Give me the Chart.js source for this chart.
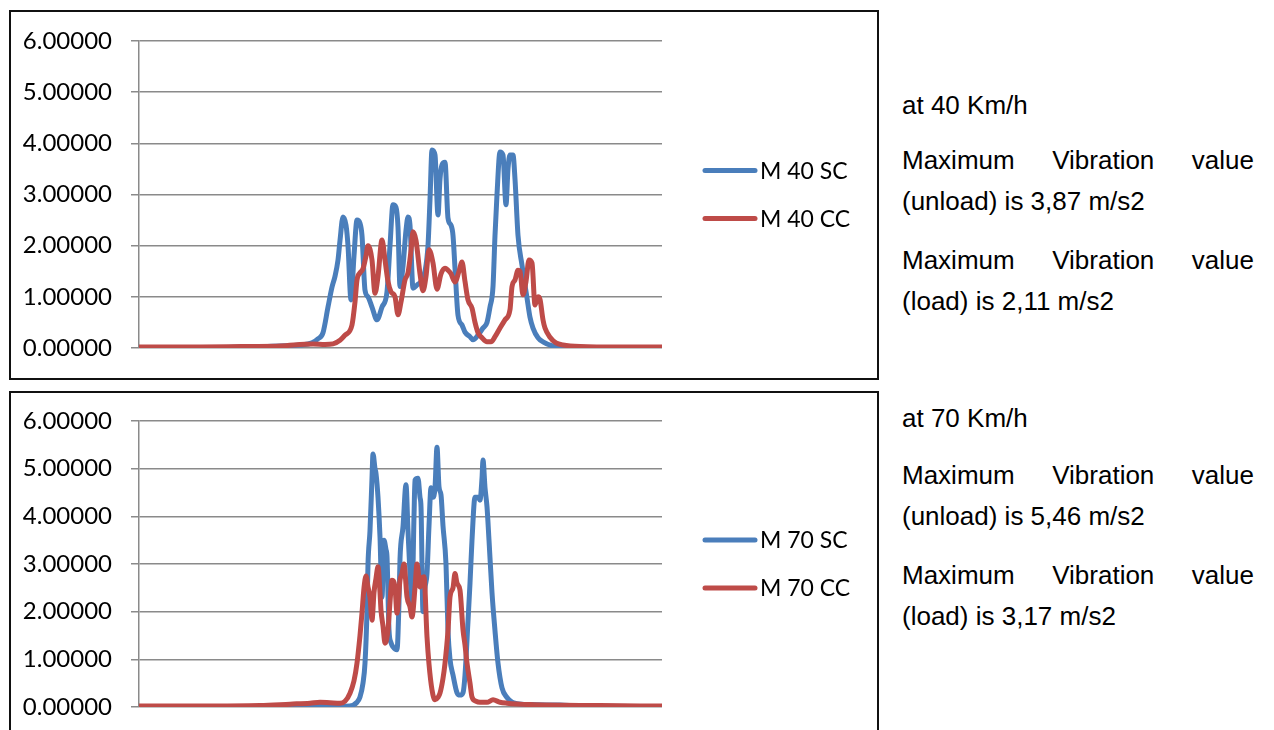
<!DOCTYPE html>
<html>
<head>
<meta charset="utf-8">
<script src="https://cdn.jsdelivr.net/npm/chart.js@4/dist/chart.umd.min.js"></script>
<style>
  body { margin: 0; background: #fff; width: 1274px; height: 730px; overflow: hidden; position: relative; }
  .box { position: absolute; left: 9px; width: 870px; height: 370px; border: 2px solid #111; box-sizing: border-box; background: #fff; }
  .box canvas { position: absolute; left: 0; top: 0; }
  .note { position: absolute; left: 902px; width: 352px; font-family: "Liberation Sans", Arial, sans-serif; font-size: 26px; line-height: 41px; color: #000; text-align: justify; }
</style>
</head>
<body>
<div class="box" style="top:10px"><canvas id="chart40" width="866" height="366"></canvas></div>
<div class="box" style="top:391px"><canvas id="chart70" width="866" height="366"></canvas></div>

<div class="note" style="top:85px">at 40 Km/h</div>
<div class="note" style="top:140px">Maximum Vibration value (unload) is 3,87 m/s2</div>
<div class="note" style="top:240px">Maximum Vibration value (load) is 2,11 m/s2</div>

<div class="note" style="top:398px">at 70 Km/h</div>
<div class="note" style="top:455px">Maximum Vibration value (unload) is 5,46 m/s2</div>
<div class="note" style="top:555px">Maximum Vibration value (load) is 3,17 m/s2</div>

<script>
// sample index along the recording, and vibration values (m/s2)
const t40SC = [0, 61, 111, 141, 161, 173, 179, 184, 189, 193, 196, 199, 201, 204, 207, 209, 212, 215, 218, 221, 223, 226, 229, 233, 238, 243, 248, 251, 254, 257, 259, 261, 264, 267, 269, 271, 274, 278, 282, 286, 289, 291, 293, 296, 299, 301, 303, 306, 309, 312, 314, 316, 319, 323, 326, 331, 334, 339, 344, 348, 351, 354, 356, 358, 361, 364, 367, 369, 371, 374, 376, 379, 383, 388, 391, 394, 399, 404, 414, 431, 461, 523];
const v40SC = [0.01, 0.01, 0.02, 0.04, 0.06, 0.1, 0.18, 0.3, 0.8, 1.19, 1.4, 1.72, 2.1, 2.56, 2.4, 2.0, 0.94, 1.8, 2.5, 2.44, 2.2, 1.13, 1.0, 0.8, 0.55, 0.8, 1.1, 2.0, 2.8, 2.75, 2.36, 1.2, 1.6, 2.3, 2.56, 2.4, 1.17, 1.23, 1.3, 1.5, 2.0, 2.9, 3.87, 3.77, 2.6, 3.3, 3.58, 3.63, 2.54, 2.4, 2.2, 1.56, 0.64, 0.45, 0.31, 0.22, 0.16, 0.25, 0.39, 0.5, 0.8, 1.2, 2.2, 3.0, 3.83, 3.77, 2.8, 3.5, 3.77, 3.77, 3.3, 2.2, 1.62, 0.98, 0.6, 0.39, 0.2, 0.12, 0.04, 0.02, 0.01, 0.01];

const t40CC = [0, 61, 111, 141, 174, 186, 194, 201, 206, 213, 216, 218, 221, 224, 227, 229, 233, 236, 239, 243, 246, 249, 252, 256, 259, 262, 266, 269, 272, 274, 277, 281, 284, 287, 290, 294, 298, 302, 306, 309, 312, 316, 320, 323, 326, 329, 333, 336, 339, 343, 348, 352, 356, 361, 366, 371, 373, 376, 379, 381, 384, 387, 390, 393, 396, 399, 401, 404, 406, 411, 417, 424, 441, 481, 523];
const v40CC = [0.02, 0.02, 0.03, 0.04, 0.08, 0.07, 0.08, 0.15, 0.25, 0.45, 0.9, 1.33, 1.47, 1.55, 1.8, 2.0, 1.72, 1.07, 1.4, 2.11, 1.72, 1.3, 1.1, 1.0, 0.65, 0.9, 1.33, 1.47, 1.9, 2.27, 2.1, 1.45, 1.12, 1.4, 1.92, 1.66, 1.15, 1.45, 1.56, 1.52, 1.45, 1.29, 1.5, 1.68, 1.3, 0.94, 0.78, 0.5, 0.3, 0.2, 0.12, 0.12, 0.22, 0.39, 0.55, 0.75, 1.2, 1.33, 1.52, 1.5, 1.04, 1.3, 1.72, 1.66, 0.84, 1.0, 0.95, 0.55, 0.39, 0.21, 0.1, 0.06, 0.03, 0.02, 0.02];

const t70SC = [0, 111, 161, 201, 211, 218, 221, 224, 226, 228, 229, 231, 233, 234, 236, 237, 239, 241, 243, 245, 247, 248, 250, 252, 254, 258, 260, 261, 264, 267, 269, 271, 273, 275, 276, 279, 281, 282, 284, 286, 288, 290, 292, 294, 296, 298, 300, 302, 304, 307, 309, 311, 314, 318, 321, 324, 326, 329, 331, 333, 336, 339, 341, 343, 344, 346, 348, 350, 353, 356, 359, 363, 368, 373, 378, 391, 421, 441, 523];
const v70SC = [0.01, 0.01, 0.01, 0.01, 0.02, 0.1, 0.21, 0.5, 0.92, 2.0, 3.0, 3.7, 4.8, 5.31, 5.0, 4.9, 4.4, 3.57, 2.3, 3.5, 3.3, 3.15, 1.62, 1.35, 1.26, 1.2, 2.2, 3.1, 3.78, 4.66, 3.7, 2.8, 2.2, 4.0, 4.76, 4.8, 4.4, 4.2, 2.0, 2.5, 2.8, 3.8, 4.6, 4.4, 4.6, 5.45, 4.62, 4.45, 3.8, 3.0, 1.6, 1.0, 0.67, 0.3, 0.25, 0.3, 0.67, 1.8, 2.6, 3.5, 4.4, 4.4, 4.34, 4.8, 5.18, 4.6, 4.2, 3.5, 2.4, 1.6, 0.92, 0.4, 0.2, 0.1, 0.07, 0.05, 0.04, 0.02, 0.01];

const t70CC = [0, 61, 121, 151, 171, 181, 191, 201, 206, 211, 215, 218, 221, 223, 225, 227, 229, 231, 233, 235, 237, 239, 241, 242, 244, 246, 249, 251, 253, 256, 258, 261, 263, 265, 268, 271, 273, 276, 278, 280, 281, 283, 285, 288, 290, 293, 296, 299, 301, 304, 306, 309, 311, 314, 316, 318, 321, 324, 326, 328, 331, 333, 337, 341, 348, 354, 361, 368, 391, 461, 523];
const v70CC = [0.02, 0.02, 0.03, 0.06, 0.08, 0.1, 0.09, 0.08, 0.12, 0.29, 0.55, 0.92, 1.5, 1.97, 2.5, 2.75, 2.52, 2.3, 1.82, 2.4, 2.7, 2.94, 2.4, 2.03, 1.7, 1.34, 1.62, 2.2, 2.66, 2.52, 1.97, 2.66, 2.8, 3.0, 2.31, 2.1, 1.89, 2.5, 3.0, 2.7, 2.52, 2.7, 2.73, 1.47, 0.9, 0.36, 0.15, 0.2, 0.29, 0.6, 0.92, 1.6, 2.31, 2.5, 2.8, 2.6, 2.45, 1.62, 1.3, 0.92, 0.5, 0.21, 0.12, 0.1, 0.1, 0.15, 0.1, 0.08, 0.05, 0.03, 0.02];

const yTicks = [0, 1, 2, 3, 4, 5, 6];

const BLUE = '#4a7ebb';
const RED = '#be4b48';
const GRID = '#8a8a8a';

function pts(xs, ys) {
  return xs.map((x, i) => ({ x: x, y: ys[i] }));
}

// legend drawn to the right of the plot, like the Excel one
const sideLegend = {
  id: 'sideLegend',
  afterDraw(chart) {
    const ctx = chart.ctx;
    const area = chart.chartArea;
    const mid = (area.top + area.bottom) / 2;
    const x0 = area.right + 43;
    ctx.save();
    chart.data.datasets.forEach((ds, i) => {
      const y = mid + (i - 0.5) * 48;
      ctx.strokeStyle = ds.borderColor;
      ctx.lineWidth = 5;
      ctx.lineCap = 'round';
      ctx.beginPath();
      ctx.moveTo(x0, y);
      ctx.lineTo(x0 + 50, y);
      ctx.stroke();
      ctx.fillStyle = '#000';
      ctx.font = '23px Lato';
      ctx.textBaseline = 'middle';
      ctx.fillText(ds.label, x0 + 55, y + 1);
    });
    ctx.restore();
  }
};

function makeChart(id, series, padTop, padBottom) {
  new Chart(document.getElementById(id), {
    type: 'line',
    data: {
      datasets: series.map(s => ({
        label: s.label,
        data: pts(s.t, s.v),
        borderColor: s.color,
        backgroundColor: s.color,
        borderWidth: 5,
        pointRadius: 0,
        borderCapStyle: 'round',
        borderJoinStyle: 'round',
        cubicInterpolationMode: 'monotone',
        order: s.order
      }))
    },
    options: {
      responsive: false,
      animation: false,
      layout: { padding: { left: 0, right: 215, top: padTop, bottom: padBottom } },
      plugins: { legend: { display: false }, tooltip: { enabled: false } },
      scales: {
        x: {
          type: 'linear',
          min: 0,
          max: 523,
          grid: { display: false },
          border: { display: false },
          ticks: { display: false },
          afterFit: s => { s.height = 0; }
        },
        y: {
          min: 0,
          max: 6,
          afterBuildTicks: s => { s.ticks = yTicks.map(v => ({ value: v })); },
          afterFit: s => { s.width = 128; s.paddingTop = 0; s.paddingBottom = 0; },
          grid: { color: GRID, lineWidth: 1.5, tickLength: 8 },
          border: { color: GRID, width: 1.5 },
          ticks: {
            color: '#000',
            padding: 19,
            font: { family: 'Lato', size: 24 },
            callback: v => v.toFixed(5)
          }
        }
      }
    },
    plugins: [sideLegend]
  });
}

makeChart('chart40', [
  { label: 'M 40 SC', t: t40SC, v: v40SC, color: BLUE, order: 1 },
  { label: 'M 40 CC', t: t40CC, v: v40CC, color: RED, order: 0 }
], 29, 30);

makeChart('chart70', [
  { label: 'M 70 SC', t: t70SC, v: v70SC, color: BLUE, order: 1 },
  { label: 'M 70 CC', t: t70CC, v: v70CC, color: RED, order: 0 }
], 28, 52);
</script>
</body>
</html>
